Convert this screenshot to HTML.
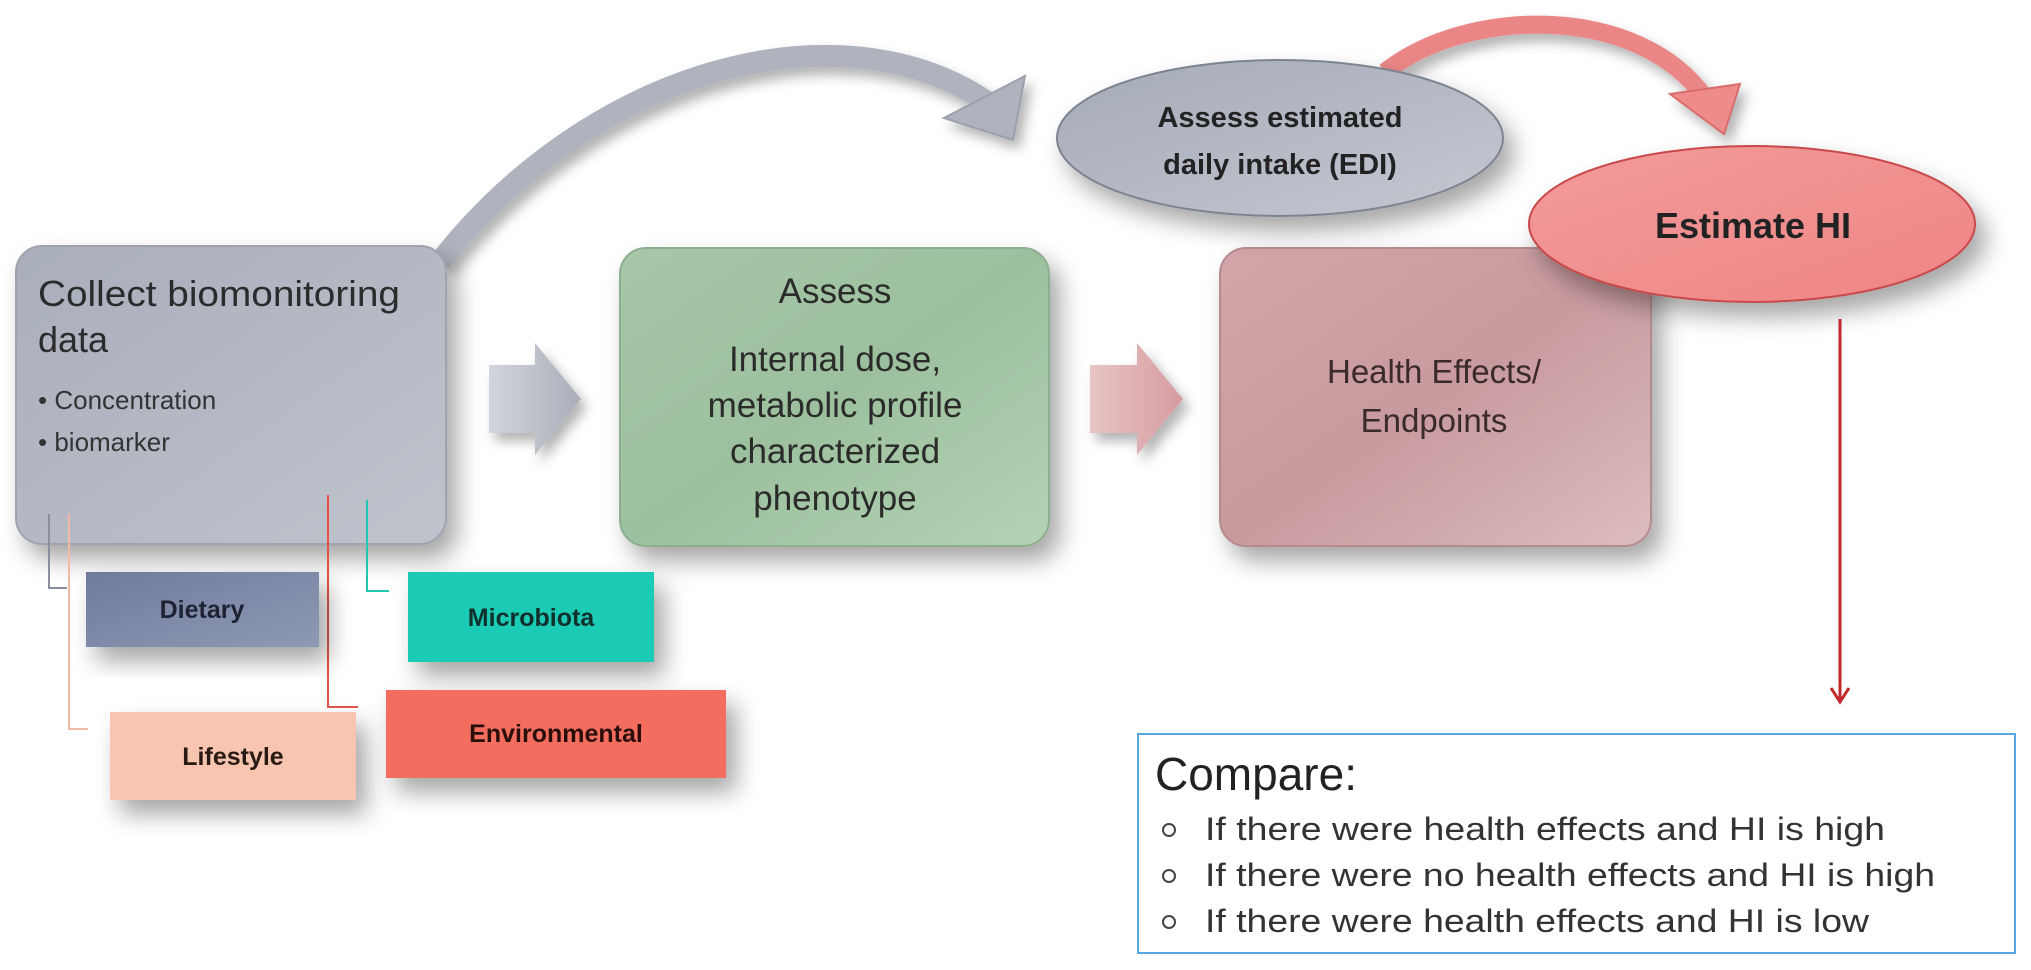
<!DOCTYPE html>
<html><head><meta charset="utf-8"><style>
html,body{margin:0;padding:0;background:#fff;}
svg{display:block;}
text{font-family:"Liberation Sans",sans-serif;}
</style></head><body>
<svg width="2031" height="970" viewBox="0 0 2031 970" xmlns="http://www.w3.org/2000/svg">
<defs>
<filter id="sh" x="-20%" y="-20%" width="150%" height="160%">
<feDropShadow dx="10" dy="14" stdDeviation="12" flood-color="#000" flood-opacity="0.35"/>
</filter>
<filter id="sh2" x="-20%" y="-20%" width="150%" height="160%">
<feDropShadow dx="6" dy="8" stdDeviation="6" flood-color="#000" flood-opacity="0.3"/>
</filter>
<linearGradient id="gGray" x1="0" y1="0" x2="1" y2="1"><stop offset="0" stop-color="#a9aebb"/><stop offset="1" stop-color="#bfc3cc"/></linearGradient>
<linearGradient id="gGreen" x1="0" y1="0" x2="1" y2="1"><stop offset="0" stop-color="#a7c7a8"/><stop offset="0.5" stop-color="#9cc09e"/><stop offset="1" stop-color="#b3d3b4"/></linearGradient>
<linearGradient id="gRose" x1="0" y1="0" x2="1" y2="1"><stop offset="0" stop-color="#d3a5a8"/><stop offset="0.5" stop-color="#c89a9e"/><stop offset="1" stop-color="#dcbcbe"/></linearGradient>
<linearGradient id="gDiet" x1="0" y1="0" x2="1" y2="1"><stop offset="0" stop-color="#6f7c9c"/><stop offset="1" stop-color="#8e99b3"/></linearGradient>
<linearGradient id="gEdi" x1="0" y1="0" x2="1" y2="1"><stop offset="0" stop-color="#a4aab7"/><stop offset="1" stop-color="#c4c8d1"/></linearGradient>
<linearGradient id="gHI" x1="0" y1="0" x2="1" y2="1"><stop offset="0" stop-color="#f39a9a"/><stop offset="1" stop-color="#ef8585"/></linearGradient>
<linearGradient id="gArr" x1="0" y1="0" x2="1" y2="0"><stop offset="0" stop-color="#d2d5db"/><stop offset="1" stop-color="#a9aeb9"/></linearGradient>
<linearGradient id="gArrP" x1="0" y1="0" x2="1" y2="0"><stop offset="0" stop-color="#e9c4c6"/><stop offset="1" stop-color="#d59ca0"/></linearGradient>
</defs>

<!-- big gray curved arrow -->
<g filter="url(#sh2)">
<path d="M440,262 C590,70 840,0 990,104" fill="none" stroke="#aeb3be" stroke-width="22"/>
<polygon points="944,118 1025,76 1013,140" fill="#aeb3be" stroke="#9aa0ac" stroke-width="2"/>
</g>

<!-- Collect box -->
<rect x="16" y="246" width="430" height="298" rx="26" fill="url(#gGray)" stroke="#9ea3ad" stroke-width="2" filter="url(#sh)"/>
<text x="38" y="306" font-size="36" fill="#2b2b2b" textLength="362" lengthAdjust="spacingAndGlyphs">Collect biomonitoring</text>
<text x="38" y="352" font-size="36" fill="#2b2b2b">data</text>
<text x="38" y="409" font-size="26" fill="#333">• Concentration</text>
<text x="38" y="451" font-size="26" fill="#333">• biomarker</text>

<!-- gray arrow -->
<polygon points="489,365 535,365 535,343 581,399 535,455 535,433 489,433" fill="url(#gArr)" filter="url(#sh2)"/>

<!-- Green box -->
<rect x="620" y="248" width="429" height="298" rx="26" fill="url(#gGreen)" stroke="#8fae90" stroke-width="2" filter="url(#sh)"/>
<g font-size="35" fill="#2b2b2b" text-anchor="middle">
<text x="835" y="303">Assess</text>
<text x="835" y="371">Internal dose,</text>
<text x="835" y="417">metabolic profile</text>
<text x="835" y="463">characterized</text>
<text x="835" y="510">phenotype</text>
</g>

<!-- pink arrow -->
<polygon points="1090,365 1137,365 1137,343 1183,399 1137,455 1137,433 1090,433" fill="url(#gArrP)" filter="url(#sh2)"/>

<!-- Health box -->
<rect x="1220" y="248" width="431" height="298" rx="26" fill="url(#gRose)" stroke="#b48c90" stroke-width="2" filter="url(#sh)"/>
<g font-size="33" fill="#3a2a2a" text-anchor="middle">
<text x="1434" y="383">Health Effects/</text>
<text x="1434" y="432">Endpoints</text>
</g>

<!-- red curved arrow -->
<g filter="url(#sh2)">
<path d="M1385,72 C1470,5 1640,5 1705,98" fill="none" stroke="#ea8686" stroke-width="18"/>
<polygon points="1670,94 1740,84 1724,134" fill="#ee8c8c" stroke="#d86c6c" stroke-width="2"/>
</g>

<!-- EDI ellipse -->
<ellipse cx="1280" cy="138" rx="223" ry="78" fill="url(#gEdi)" stroke="#7d8390" stroke-width="2" filter="url(#sh)"/>
<g font-size="29" font-weight="bold" fill="#222" text-anchor="middle">
<text x="1280" y="127">Assess estimated</text>
<text x="1280" y="174">daily intake (EDI)</text>
</g>

<!-- Estimate HI ellipse -->
<ellipse cx="1752" cy="224" rx="223" ry="78" fill="url(#gHI)" stroke="#c84848" stroke-width="2" filter="url(#sh)"/>
<text x="1753" y="238" font-size="36" font-weight="bold" fill="#222" text-anchor="middle">Estimate HI</text>

<!-- red vertical arrow -->
<line x1="1840" y1="319" x2="1840" y2="700" stroke="#c0282c" stroke-width="3"/>
<polyline points="1831,688 1840,702 1849,688" fill="none" stroke="#c0282c" stroke-width="3"/>

<!-- connector lines -->
<polyline points="49,514 49,588 67,588" fill="none" stroke="#8a8fa0" stroke-width="2"/>
<polyline points="69,514 69,729 88,729" fill="none" stroke="#f1b9a6" stroke-width="2"/>
<polyline points="328,495 328,707 358,707" fill="none" stroke="#e0554a" stroke-width="2"/>
<polyline points="367,500 367,591 389,591" fill="none" stroke="#22c7b2" stroke-width="2"/>

<!-- small boxes -->
<rect x="86" y="572" width="233" height="75" fill="url(#gDiet)" filter="url(#sh)"/>
<text x="202" y="618" font-size="25" font-weight="bold" fill="#1f2233" text-anchor="middle">Dietary</text>
<rect x="408" y="572" width="246" height="90" fill="#1dcbb6" filter="url(#sh)"/>
<text x="531" y="626" font-size="25" font-weight="bold" fill="#10302c" text-anchor="middle">Microbiota</text>
<rect x="110" y="712" width="246" height="88" fill="#f8c5b1" filter="url(#sh)"/>
<text x="233" y="765" font-size="25" font-weight="bold" fill="#2a1a14" text-anchor="middle">Lifestyle</text>
<rect x="386" y="690" width="340" height="88" fill="#f36e5f" filter="url(#sh)"/>
<text x="556" y="742" font-size="25" font-weight="bold" fill="#2a0e0a" text-anchor="middle">Environmental</text>

<!-- Compare box -->
<rect x="1138" y="734" width="877" height="219" fill="#fff" stroke="#5aa6e0" stroke-width="2"/>
<text x="1155" y="790" font-size="46" fill="#222">Compare:</text>
<g font-size="32" fill="#333">
<circle cx="1169" cy="830" r="6" fill="none" stroke="#444" stroke-width="2"/>
<text x="1205" y="840" textLength="680" lengthAdjust="spacingAndGlyphs">If there were health effects and HI is high</text>
<circle cx="1169" cy="876" r="6" fill="none" stroke="#444" stroke-width="2"/>
<text x="1205" y="886" textLength="730" lengthAdjust="spacingAndGlyphs">If there were no health effects and HI is high</text>
<circle cx="1169" cy="922" r="6" fill="none" stroke="#444" stroke-width="2"/>
<text x="1205" y="932" textLength="664" lengthAdjust="spacingAndGlyphs">If there were health effects and HI is low</text>
</g>
</svg>
</body></html>
